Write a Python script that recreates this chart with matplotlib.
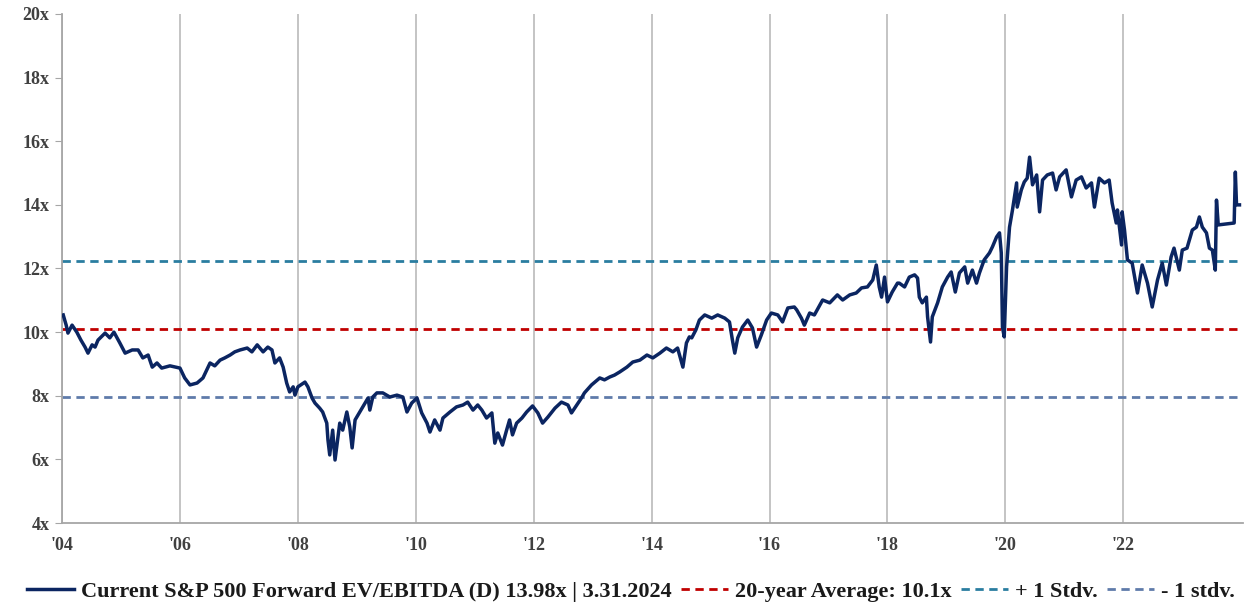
import matplotlib.pyplot as plt

# S&P 500 forward EV/EBITDA (decimal year, multiple)
years = [
    2004.02, 2004.07, 2004.10, 2004.17, 2004.25, 2004.32, 2004.39, 2004.44, 2004.51, 2004.56,
    2004.61, 2004.73, 2004.81, 2004.88, 2004.98, 2005.07, 2005.19, 2005.29, 2005.37, 2005.46,
    2005.53, 2005.61, 2005.69, 2005.83, 2006.00, 2006.08, 2006.17, 2006.29, 2006.39, 2006.51,
    2006.59, 2006.68, 2006.76, 2006.85, 2006.93, 2007.02, 2007.14, 2007.22, 2007.31, 2007.41,
    2007.49, 2007.56, 2007.61, 2007.69, 2007.75, 2007.81, 2007.86, 2007.92, 2007.95, 2008.00,
    2008.12, 2008.17, 2008.24, 2008.29, 2008.37, 2008.42, 2008.49, 2008.51, 2008.54, 2008.59,
    2008.63, 2008.68, 2008.71, 2008.76, 2008.83, 2008.88, 2008.92, 2008.97, 2009.05, 2009.14,
    2009.19, 2009.22, 2009.27, 2009.34, 2009.44, 2009.56, 2009.68, 2009.78, 2009.85, 2009.93,
    2010.02, 2010.10, 2010.19, 2010.24, 2010.32, 2010.41, 2010.46, 2010.58, 2010.69, 2010.80,
    2010.88, 2010.97, 2011.05, 2011.12, 2011.20, 2011.29, 2011.34, 2011.39, 2011.47, 2011.54,
    2011.59, 2011.64, 2011.71, 2011.80, 2011.88, 2011.98, 2012.07, 2012.15, 2012.24, 2012.36,
    2012.47, 2012.58, 2012.64, 2012.73, 2012.81, 2012.86, 2012.98, 2013.12, 2013.20, 2013.29,
    2013.37, 2013.46, 2013.58, 2013.68, 2013.80, 2013.92, 2014.02, 2014.14, 2014.25, 2014.36,
    2014.44, 2014.53, 2014.59, 2014.64, 2014.68, 2014.75, 2014.81, 2014.90, 2015.02, 2015.12,
    2015.24, 2015.32, 2015.37, 2015.41, 2015.46, 2015.54, 2015.63, 2015.71, 2015.78, 2015.86,
    2015.95, 2016.03, 2016.14, 2016.22, 2016.31, 2016.42, 2016.46, 2016.54, 2016.59, 2016.68,
    2016.76, 2016.90, 2017.02, 2017.15, 2017.24, 2017.36, 2017.47, 2017.56, 2017.66, 2017.75,
    2017.81, 2017.86, 2017.90, 2017.95, 2018.00, 2018.08, 2018.17, 2018.20, 2018.29, 2018.37,
    2018.46, 2018.51, 2018.54, 2018.59, 2018.66, 2018.68, 2018.73, 2018.76, 2018.85, 2018.93,
    2019.02, 2019.08, 2019.15, 2019.22, 2019.31, 2019.36, 2019.44, 2019.51, 2019.56, 2019.64,
    2019.73, 2019.78, 2019.85, 2019.90, 2019.93, 2019.95, 2019.98, 2020.02, 2020.07, 2020.12,
    2020.19, 2020.20, 2020.27, 2020.32, 2020.37, 2020.41, 2020.46, 2020.53, 2020.58, 2020.63,
    2020.71, 2020.80, 2020.86, 2020.92, 2021.03, 2021.12, 2021.20, 2021.29, 2021.37, 2021.46,
    2021.51, 2021.59, 2021.68, 2021.76, 2021.81, 2021.88, 2021.90, 2021.97, 2021.98, 2022.02,
    2022.07, 2022.15, 2022.24, 2022.32, 2022.41, 2022.49, 2022.58, 2022.66, 2022.73, 2022.81,
    2022.86, 2022.95, 2023.00, 2023.08, 2023.17, 2023.24, 2023.29, 2023.34, 2023.41, 2023.46,
    2023.51, 2023.56, 2023.58, 2023.61, 2023.88, 2023.90, 2023.92, 2023.97,
]
ev_ebitda = [
    10.54, 10.22, 9.97, 10.22, 10.00, 9.75, 9.53, 9.34, 9.60, 9.53,
    9.75, 9.97, 9.82, 10.00, 9.66, 9.34, 9.44, 9.44, 9.19, 9.28,
    8.90, 9.03, 8.87, 8.94, 8.87, 8.56, 8.34, 8.40, 8.56, 9.03,
    8.94, 9.12, 9.19, 9.28, 9.38, 9.44, 9.50, 9.38, 9.60, 9.38,
    9.53, 9.44, 9.03, 9.19, 8.90, 8.40, 8.12, 8.28, 8.02, 8.28,
    8.43, 8.28, 7.93, 7.77, 7.61, 7.49, 7.14, 6.61, 6.14, 6.92,
    5.98, 6.70, 7.14, 6.92, 7.49, 7.02, 6.36, 7.24, 7.49, 7.77,
    7.93, 7.55, 7.96, 8.09, 8.09, 7.96, 8.02, 7.96, 7.49, 7.77,
    7.93, 7.46, 7.14, 6.86, 7.24, 6.92, 7.30, 7.49, 7.65, 7.71,
    7.80, 7.55, 7.71, 7.55, 7.30, 7.46, 6.51, 6.83, 6.45, 6.92,
    7.24, 6.77, 7.14, 7.30, 7.49, 7.68, 7.46, 7.14, 7.33, 7.61,
    7.80, 7.71, 7.46, 7.71, 7.93, 8.09, 8.34, 8.56, 8.50, 8.59,
    8.65, 8.75, 8.90, 9.06, 9.12, 9.28, 9.19, 9.34, 9.50, 9.38,
    9.50, 8.90, 9.66, 9.85, 9.82, 10.07, 10.38, 10.54, 10.44, 10.54,
    10.44, 10.32, 9.75, 9.34, 9.82, 10.16, 10.38, 10.13, 9.53, 9.91,
    10.38, 10.60, 10.54, 10.32, 10.76, 10.79, 10.70, 10.44, 10.22, 10.60,
    10.54, 11.01, 10.92, 11.17, 11.01, 11.17, 11.23, 11.39, 11.42, 11.64,
    12.11, 11.42, 11.10, 11.73, 10.95, 11.26, 11.54, 11.54, 11.42, 11.73,
    11.80, 11.70, 11.10, 10.92, 11.10, 10.48, 9.69, 10.48, 10.92, 11.42,
    11.73, 11.89, 11.26, 11.86, 12.05, 11.54, 11.95, 11.54, 11.86, 12.27,
    12.49, 12.68, 12.99, 13.12, 12.49, 10.16, 9.85, 12.05, 13.30, 13.84,
    14.69, 13.93, 14.47, 14.72, 14.84, 15.50, 14.63, 14.94, 13.78, 14.78,
    14.94, 15.00, 14.47, 14.88, 15.10, 14.25, 14.78, 14.88, 14.53, 14.69,
    13.93, 14.84, 14.69, 14.78, 14.06, 13.43, 13.84, 12.74, 13.78, 13.21,
    12.27, 12.17, 11.23, 12.11, 11.54, 10.79, 11.64, 12.17, 11.48, 12.36,
    12.64, 11.95, 12.58, 12.64, 13.21, 13.30, 13.62, 13.30, 13.12, 12.64,
    12.58, 11.95, 14.15, 13.37, 13.43, 15.03, 14.00, 14.00,
]

avg_20y = 10.1
plus_1sd = 12.22
minus_1sd = 7.95

x_ticks = [2004, 2006, 2008, 2010, 2012, 2014, 2016, 2018, 2020, 2022]
x_labels = ["'04", "'06", "'08", "'10", "'12", "'14", "'16", "'18", "'20", "'22"]
y_ticks = [4, 6, 8, 10, 12, 14, 16, 18, 20]
y_labels = [f"{v}x" for v in y_ticks]

plt.rcParams['font.family'] = ['Liberation Serif', 'DejaVu Serif']

fig = plt.figure(figsize=(12.46, 6.05), dpi=100)
ax = fig.add_axes([0.0498, 0.1355, 0.9478, 0.8414])

for t in x_ticks:
    ax.axvline(t, color='#BFBFBF', lw=1.3, zorder=0)

ax.plot(years, ev_ebitda, color='#0B2561', lw=2.5, zorder=3,
        label='Current S&P 500 Forward EV/EBITDA (D) 13.98x | 3.31.2024')
ax.axhline(avg_20y, color='#C00000', lw=2, ls=(0, (3, 2)), zorder=2,
           label='20-year Average: 10.1x')
ax.axhline(plus_1sd, color='#2A7DA0', lw=2, ls=(0, (3, 2)), zorder=2,
           label='+ 1 Stdv.')
ax.axhline(minus_1sd, color='#5F7BAA', lw=2, ls=(0, (3, 2)), zorder=2,
           label='- 1 stdv.')

ax.set_xlim(2004, 2024.03)
ax.set_ylim(4, 20)
ax.set_xticks(x_ticks)
ax.set_xticklabels(x_labels)
ax.set_yticks(y_ticks)
ax.set_yticklabels(y_labels)

for s in ['top', 'right']:
    ax.spines[s].set_visible(False)
for s in ['left', 'bottom']:
    ax.spines[s].set_color('#A6A6A6')
    ax.spines[s].set_linewidth(1.3)

ax.tick_params(axis='y', length=5, color='#A6A6A6', labelsize=13, pad=4)
ax.tick_params(axis='x', length=0, labelsize=13, pad=10)
for lab in ax.get_xticklabels() + ax.get_yticklabels():
    lab.set_fontweight('bold')
    lab.set_color('#404040')

fig.legend(loc='center left', bbox_to_anchor=(0.006, 0.022), ncol=4, frameon=False,
           prop={'size': 16, 'weight': 'bold'}, handlelength=2.1, columnspacing=0.45,
           handletextpad=0.3, labelcolor='#1A1A1A')

fig.savefig('out.png', dpi=100)
